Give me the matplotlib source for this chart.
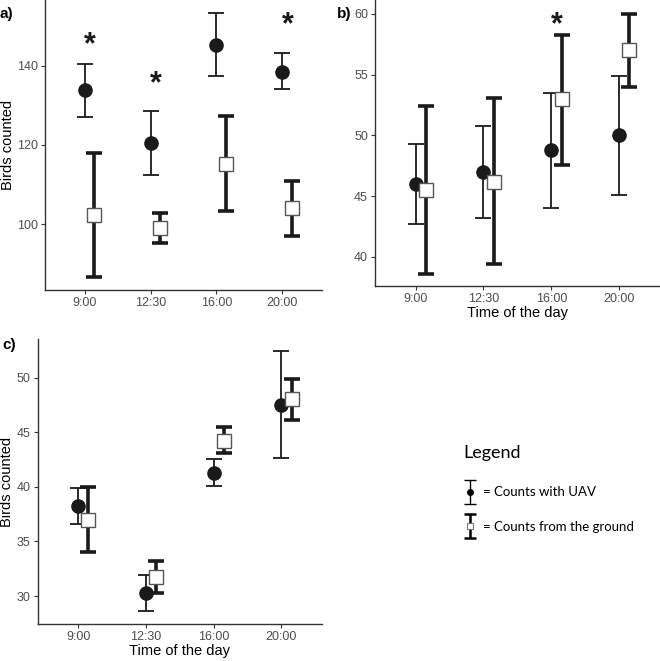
import matplotlib
matplotlib.use("Agg")
import matplotlib.pyplot as plt

plt.rcParams["font.family"] = ["Liberation Sans", "DejaVu Sans"]

TIMES = ["9:00", "12:30", "16:00", "20:00"]
POS = [1, 2, 3, 4]
DODGE = 0.15

# panel a) - UAV counts (circles) and ground counts (squares)
a_uav = [133.8, 120.5, 145.3, 138.6]
a_uav_lo = [127.0, 112.5, 137.5, 134.2]
a_uav_hi = [140.5, 128.5, 153.5, 143.2]
a_gnd = [102.2, 99.0, 115.3, 104.0]
a_gnd_lo = [86.5, 95.3, 103.3, 96.9]
a_gnd_hi = [118.0, 102.7, 127.3, 111.0]
a_stars = [0, 1, 3]
a_star_y = [145.3, 135.4, 150.3]

# panel b)
b_uav = [46.0, 47.0, 48.8, 50.0]
b_uav_lo = [42.7, 43.2, 44.0, 45.1]
b_uav_hi = [49.3, 50.8, 53.5, 54.9]
b_gnd = [45.5, 46.2, 53.0, 57.0]
b_gnd_lo = [38.6, 39.4, 47.6, 54.0]
b_gnd_hi = [52.4, 53.1, 58.3, 60.0]
b_stars = [2]
b_star_y = [59.1]

# panel c)
c_uav = [38.25, 30.25, 41.3, 47.5]
c_uav_lo = [36.6, 28.6, 40.1, 42.6]
c_uav_hi = [39.9, 31.9, 42.5, 52.4]
c_gnd = [37.0, 31.7, 44.2, 48.0]
c_gnd_lo = [34.0, 30.3, 43.1, 46.1]
c_gnd_hi = [40.0, 33.2, 45.5, 49.9]

DARK = "#1a1a1a"
GREY = "#4d4d4d"


def draw_panel(ax, uav, uav_lo, uav_hi, gnd, gnd_lo, gnd_hi, ylim, yticks):
    '''draws both series with error bars on one axes'''
    x_gnd = [p + DODGE for p in POS]
    ax.errorbar(POS, uav, yerr=[[u - l for u, l in zip(uav, uav_lo)],
                                [h - u for u, h in zip(uav, uav_hi)]],
                fmt="o", color=DARK, ms=9.5, lw=1.3, capsize=6, capthick=1.3,
                zorder=3)
    ax.errorbar(x_gnd, gnd, yerr=[[g - l for g, l in zip(gnd, gnd_lo)],
                                  [h - g for g, h in zip(gnd, gnd_hi)]],
                fmt="none", ecolor=DARK, lw=2.6, capsize=6, capthick=2.6,
                zorder=2)
    ax.plot(x_gnd, gnd, "s", ms=10, mfc="white", mec="#555555", mew=1.0,
            zorder=4)
    ax.set_xlim(0.4, 4.6)
    ax.set_ylim(*ylim)
    ax.set_xticks(POS)
    ax.set_xticklabels(TIMES)
    ax.set_yticks(yticks)
    for side in ["top", "right"]:
        ax.spines[side].set_visible(False)
    for side in ["left", "bottom"]:
        ax.spines[side].set_color("#333333")
        ax.spines[side].set_linewidth(1.0)
    ax.tick_params(colors="#333333", labelcolor=GREY, labelsize=9, length=3,
                   width=0.8, pad=2)


def add_stars(ax, idx, ys):
    for i, y in zip(idx, ys):
        ax.text(POS[i] + DODGE / 2, y, "*", fontsize=22, fontweight="bold",
                ha="center", va="center", color=DARK)


def main():
    fig = plt.figure(figsize=(6.6, 6.61), dpi=100)

    ax_a = fig.add_axes([0.0682, 0.5613, 0.4197, 0.4387])
    draw_panel(ax_a, a_uav, a_uav_lo, a_uav_hi, a_gnd, a_gnd_lo, a_gnd_hi,
               (83.3, 156.7), [100, 120, 140])
    add_stars(ax_a, a_stars, a_star_y)
    ax_a.set_ylabel("Birds counted", fontsize=10.5)
    ax_a.yaxis.set_label_coords(-0.110, 0.5)

    ax_b = fig.add_axes([0.568, 0.5673, 0.432, 0.4327])
    draw_panel(ax_b, b_uav, b_uav_lo, b_uav_hi, b_gnd, b_gnd_lo, b_gnd_hi,
               (37.6, 61.15), [40, 45, 50, 55, 60])
    add_stars(ax_b, b_stars, b_star_y)
    ax_b.set_xlabel("Time of the day", fontsize=10.5, labelpad=1)

    ax_c = fig.add_axes([0.0571, 0.056, 0.4309, 0.4307])
    draw_panel(ax_c, c_uav, c_uav_lo, c_uav_hi, c_gnd, c_gnd_lo, c_gnd_hi,
               (27.44, 53.5), [30, 35, 40, 45, 50])
    ax_c.set_ylabel("Birds counted", fontsize=10.5)
    ax_c.yaxis.set_label_coords(-0.085, 0.5)
    ax_c.set_xlabel("Time of the day", fontsize=10.5, labelpad=1)

    fig.text(0.0, 0.979, "a)", fontsize=11, fontweight="bold", va="center")
    fig.text(0.511, 0.979, "b)", fontsize=11, fontweight="bold", va="center")
    fig.text(0.003, 0.478, "c)", fontsize=11, fontweight="bold", va="center")

    # legend drawn by hand in its own pixel-space axes
    lg = fig.add_axes([0.68, 0.16, 0.32, 0.17])
    lg.set_xlim(450, 660)
    lg.set_ylim(554, 442)
    lg.axis("off")
    lg.text(464, 452, "Legend", fontsize=13, family="Lato", va="center")
    lg.errorbar([471], [491], yerr=[[11.5], [11.5]], fmt="o", color="black",
                ms=4, lw=1.0, capsize=4, capthick=1.0)
    lg.errorbar([471], [525], yerr=[[12], [12]], fmt="none", ecolor="black",
                lw=1.8, capsize=4, capthick=1.8)
    lg.plot([471], [525], "s", ms=4, mfc="white", mec="#777777", mew=0.8)
    lg.text(484, 491, "= Counts with UAV", fontsize=9.5, family="Lato",
            va="center")
    lg.text(484, 526, "= Counts from the ground", fontsize=9.5, family="Lato",
            va="center")

    fig.savefig("out.png", dpi=100)


if __name__ == "__main__":
    main()
